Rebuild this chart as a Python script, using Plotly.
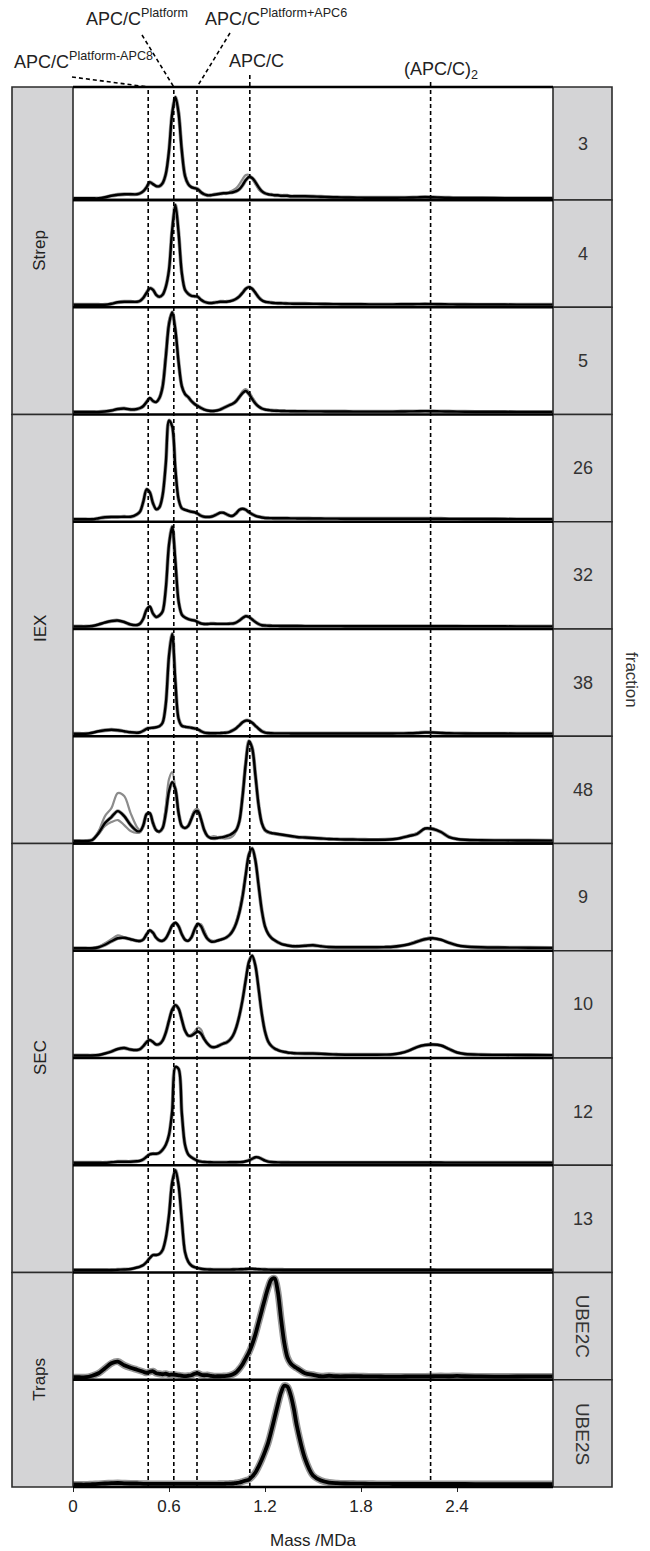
import plotly.graph_objects as go
from plotly.subplots import make_subplots

# Mass axis (MDa) shared by every profile
mass_mda = [
    0.00, 0.04, 0.08, 0.12, 0.16, 0.20, 0.24, 0.28, 0.32, 0.36, 0.40,
    0.42, 0.44, 0.46, 0.48, 0.50, 0.52, 0.54, 0.56, 0.58, 0.60,
    0.62, 0.64, 0.66, 0.68, 0.70, 0.72, 0.74, 0.76, 0.78, 0.80,
    0.82, 0.84, 0.86, 0.88, 0.90, 0.92, 0.94, 0.96, 0.98, 1.00,
    1.02, 1.04, 1.06, 1.08, 1.10, 1.12, 1.14, 1.16, 1.18, 1.20,
    1.22, 1.24, 1.26, 1.28, 1.30, 1.32, 1.34, 1.36, 1.38, 1.40,
    1.45, 1.50, 1.55, 1.60, 1.65, 1.70, 1.75, 1.80, 1.85, 1.90,
    1.95, 2.00, 2.05, 2.10, 2.15, 2.20, 2.25, 2.30, 2.35, 2.40,
    2.45, 2.55, 2.70, 2.85, 3.00,
]

fractions = ["3", "4", "5", "26", "32", "38", "48", "9", "10", "12", "13", "UBE2C", "UBE2S"]
purification_steps = ["Strep", "IEX", "SEC", "Traps"]
panels_per_step = [3, 4, 4, 2]

# Normalised mass-photometry density (% of panel maximum)
strep_3 = [0, 0, 0, 0, 0, 1, 2.5, 3.5, 4, 4, 4,
           5, 7, 11, 16, 14, 12, 12, 15, 24, 47,
           84, 100, 84, 47, 22, 14, 11, 10, 9, 6,
           4, 3, 3, 3.5, 4, 4.5, 5, 5, 5.5, 6,
           7, 9, 13, 18, 21, 20, 16, 11, 7, 5,
           4, 3.5, 3, 3, 2.5, 2.5, 2.5, 2, 2, 2,
           2, 1.8, 1.5, 1.2, 1, 0.8, 0.7, 0.6, 0.5, 0.5,
           0.5, 0.5, 0.6, 0.7, 0.9, 1.2, 1, 0.7, 0.5, 0.4,
           0.3, 0.3, 0.2, 0.2, 0.1]
strep_3_rep = [0, 0, 0, 0, 0, 1, 2.5, 3.5, 3.5, 4, 4,
               5, 7, 10, 15, 14, 12, 12, 14, 25, 47,
               82, 100, 88, 52, 25, 15, 11, 10, 8, 5,
               3.5, 3, 3, 3.5, 4, 4.5, 5, 5.5, 6.5, 8,
               10, 14, 19, 23, 23, 19, 14, 9, 6, 4.5,
               3.5, 3, 3, 2.5, 2.5, 2.5, 2, 2, 2, 2,
               2, 1.8, 1.5, 1.2, 1, 0.8, 0.7, 0.6, 0.5, 0.5,
               0.5, 0.5, 0.6, 0.7, 0.9, 1.2, 1, 0.7, 0.5, 0.4,
               0.3, 0.3, 0.2, 0.2, 0.1]
strep_4 = [0, 0, 0, 0, 0, 0, 1, 2.5, 3, 3, 3,
           4, 7, 12, 16.5, 15, 10, 8, 10, 18, 35,
           75, 100, 72, 32, 15, 11, 9, 8.5, 8, 5,
           3, 2, 1.7, 2, 2.5, 3, 3, 3, 3.5, 4.5,
           6, 8.5, 12, 16, 17.7, 16, 12, 7.5, 4.5, 3,
           2.5, 2, 1.7, 1.5, 1.5, 1.3, 1.2, 1.1, 1, 1,
           1, 0.9, 0.8, 0.7, 0.6, 0.5, 0.5, 0.5, 0.4, 0.4,
           0.4, 0.4, 0.5, 0.5, 0.6, 0.7, 0.6, 0.5, 0.4, 0.3,
           0.3, 0.2, 0.2, 0.1, 0.1]
strep_5 = [0, 0, 0, 0, 0, 0.5, 1.5, 3, 3.5, 2.5, 3,
           4, 6, 10, 14, 11, 10, 14, 25, 55, 88,
           100, 82, 50, 26, 18, 15, 11, 8, 6, 4,
           2.5, 1.5, 1, 1, 1.5, 2.5, 4, 5.5, 7, 8.5,
           11, 15, 19, 21, 18, 13, 8.5, 5.5, 3.5, 2.5,
           2, 1.5, 1.3, 1.2, 1, 1, 0.9, 0.8, 0.8, 0.7,
           0.7, 0.6, 0.6, 0.5, 0.5, 0.5, 0.4, 0.4, 0.4, 0.4,
           0.4, 0.4, 0.5, 0.6, 0.7, 0.9, 0.8, 0.6, 0.5, 0.4,
           0.3, 0.2, 0.2, 0.1, 0.1]
strep_5_rep = [0, 0, 0, 0, 0, 0.5, 1.5, 3, 3.5, 2.5, 3,
               4, 6, 10, 13, 11, 10, 15, 30, 62, 92,
               100, 80, 47, 25, 17, 14, 10, 7.5, 5.5, 4,
               2.5, 1.5, 1, 1, 1.5, 2.5, 4, 5.5, 7, 9,
               12, 16, 21, 23, 20, 15, 10, 6, 4, 2.5,
               2, 1.5, 1.3, 1.2, 1, 1, 0.9, 0.8, 0.8, 0.7,
               0.7, 0.6, 0.6, 0.5, 0.5, 0.5, 0.4, 0.4, 0.4, 0.4,
               0.4, 0.4, 0.5, 0.6, 0.7, 0.9, 0.8, 0.6, 0.5, 0.4,
               0.3, 0.2, 0.2, 0.1, 0.1]
iex_26 = [0, 0, 0, 0, 1, 2, 2.3, 2.3, 2.5, 2.5, 5,
          8, 18, 30, 27, 16, 10, 12, 24, 56, 99,
          93, 50, 20, 11, 9.5, 8.5, 7.5, 7, 5.5, 3.5,
          2.5, 2.3, 2.5, 3.5, 5, 6.5, 6.5, 5, 3.5, 3.5,
          6, 9.5, 10.5, 9.5, 7, 5, 3.5, 2.5, 1.8, 1.3,
          1.2, 1.1, 1, 1, 1, 1, 1, 0.9, 0.9, 0.8,
          0.8, 0.7, 0.7, 0.6, 0.6, 0.5, 0.5, 0.5, 0.5, 0.5,
          0.5, 0.5, 0.5, 0.5, 0.5, 0.5, 0.5, 0.5, 0.4, 0.4,
          0.3, 0.3, 0.2, 0.1, 0.1]
iex_32 = [0, 0, 0, 0.5, 2, 4, 5.5, 6, 4.5, 2, 1.5,
          3, 8, 17, 20, 13, 9.5, 11, 15, 38, 82,
          100, 65, 25, 12, 9, 7.5, 6.5, 6, 4.5, 3,
          2.5, 2.5, 2.8, 2.8, 2.6, 2.6, 2.6, 2.6, 2.8, 3,
          4, 6, 8.5, 10.3, 9.5, 7, 4.5, 2.5, 1.3, 1,
          0.8, 0.7, 0.6, 0.6, 0.5, 0.5, 0.5, 0.5, 0.5, 0.5,
          0.4, 0.4, 0.4, 0.4, 0.4, 0.3, 0.3, 0.3, 0.3, 0.3,
          0.3, 0.3, 0.3, 0.3, 0.3, 0.3, 0.3, 0.3, 0.3, 0.3,
          0.2, 0.2, 0.2, 0.1, 0.1]
iex_38 = [0, 0, 0, 1, 2.5, 3.5, 4, 3.5, 2.5, 1.5, 1,
          1.5, 3, 5, 5.7, 6, 6.5, 7.5, 11, 30, 78,
          100, 52, 15, 8, 7, 6.5, 6, 5.3, 4.5, 2.5,
          1.2, 0.7, 0.5, 0.5, 0.6, 0.7, 0.9, 1.2, 2, 3.5,
          5.5, 8.5, 11.5, 13.2, 13, 11, 8, 5, 2.5, 1.2,
          0.7, 0.5, 0.4, 0.4, 0.4, 0.4, 0.4, 0.3, 0.3, 0.3,
          0.3, 0.3, 0.3, 0.3, 0.3, 0.3, 0.3, 0.3, 0.3, 0.3,
          0.3, 0.3, 0.4, 0.5, 0.8, 1.3, 1.2, 0.8, 0.5, 0.4,
          0.3, 0.2, 0.2, 0.1, 0.1]
iex_48 = [0, 0, 0, 1, 8, 18, 24, 30, 25, 16, 10,
          10, 16, 27, 28, 18, 11, 9.5, 13, 28, 50,
          59, 52, 28, 15, 13, 15, 22, 29, 30, 22,
          11, 5, 3, 2.7, 3, 3.5, 4, 5, 6, 8,
          11, 20, 45, 78, 100, 93, 66, 36, 18, 11,
          9, 8, 7.5, 7, 6.5, 6, 5.5, 5, 4.5, 4,
          3.5, 3, 2.5, 2, 1.8, 1.5, 1.5, 1.3, 1.2, 1.2,
          1.3, 1.8, 3, 5, 7, 12.5, 12, 9, 4, 2,
          1.2, 0.8, 0.6, 0.5, 0.4]
iex_48_rep_a = [0, 0, 0, 1, 10, 25, 33, 48, 45, 28, 14,
                11, 15, 26, 27, 17, 10, 9, 14, 35, 62,
                69, 52, 26, 14, 13, 16, 24, 31, 32, 23,
                11, 5, 4, 5, 4, 3, 2.5, 2.5, 3, 5,
                10, 22, 50, 82, 98, 90, 62, 33, 17, 10,
                8, 7.5, 7, 6.5, 6, 5.5, 5, 4.5, 4, 3.5,
                3, 2.5, 2.2, 2, 1.8, 1.5, 1.4, 1.3, 1.2, 1.2,
                1.3, 2, 3.5, 5.5, 8, 12, 13, 9, 4.5, 2,
                1.2, 0.8, 0.6, 0.5, 0.4]
iex_48_rep_b = [0, 0, 0, 1, 7, 15, 19, 21, 16, 10, 8,
                9, 15, 26, 27, 17, 10, 9, 13, 27, 49,
                58, 50, 29, 15, 13, 15, 22, 28, 30, 22,
                11, 5, 3, 3, 3.5, 4, 4, 4.5, 5.5, 7.5,
                11, 19, 43, 76, 99, 95, 68, 37, 18, 11,
                9, 8, 7.5, 7, 6.5, 6, 5.5, 5, 4.5, 4,
                3.5, 3, 2.5, 2, 1.8, 1.5, 1.5, 1.3, 1.2, 1.2,
                1.3, 1.8, 3, 5, 7, 12.5, 12, 9, 4, 2,
                1.2, 0.8, 0.6, 0.5, 0.4]
sec_9 = [0, 0, 0, 0, 1, 3.5, 7, 10, 10.5, 9, 7.5,
         7.3, 9, 14, 18, 15.5, 10.5, 7.8, 7.5, 10, 16,
         23, 25.5, 22, 14, 8.5, 7.5, 11, 19, 24.5, 22,
         15, 9.5, 7, 6.6, 7.5, 8.5, 9.5, 11, 13.5, 18,
         25, 36, 52, 74, 94, 100, 88, 63, 38, 22,
         14.5, 10.5, 8, 6, 4.5, 3.5, 2.8, 2.3, 2, 2,
         2.5, 3, 2, 1.2, 1, 1, 1, 1, 1, 1,
         1.2, 1.5, 2.5, 4, 6.5, 9, 10, 8.5, 5.5, 3,
         1.8, 1, 0.7, 0.5, 0.4]
sec_9_rep = [0, 0, 0, 0, 1.5, 5, 9, 13, 11, 9, 7.5,
             7.5, 9, 13.5, 17, 15, 10.5, 8, 7.5, 10, 15,
             22, 25, 22, 15, 9, 7.5, 10, 17, 23, 24,
             18, 11, 8, 7, 7.5, 8.5, 9.5, 11, 14, 19,
             27, 39, 56, 77, 95, 100, 86, 60, 36, 21,
             14, 10, 8, 6, 4.5, 3.5, 2.8, 2.3, 2, 2,
             2.5, 3.5, 2, 1.2, 1, 1, 1, 1, 1, 1,
             1.2, 1.6, 2.5, 4.5, 7.5, 10, 10.5, 8.5, 5.5, 3,
             1.8, 1, 0.7, 0.5, 0.4]
sec_10 = [0, 0, 0, 0, 0.5, 2, 4, 6.5, 7.5, 6, 5.5,
          6.5, 9.5, 13.5, 15.5, 13.5, 11, 11.5, 15, 23, 35,
          46, 50.5, 47, 36, 25, 20, 20, 22, 24, 22,
          16.5, 12, 9, 8.3, 9, 10.5, 12, 13, 15.5, 20,
          28, 40, 56, 76, 94, 100, 90, 67, 42, 24,
          14, 9.5, 7, 5.5, 4.3, 3.6, 3, 2.6, 2.3, 2.1,
          2, 2, 1.7, 1.3, 1, 0.8, 0.8, 0.8, 0.8, 0.8,
          0.9, 1.2, 2.5, 5, 8.5, 10.5, 11, 10, 6.5, 3,
          1.5, 0.8, 0.6, 0.5, 0.4]
sec_10_rep = [0, 0, 0, 0, 0.5, 2, 4, 6.5, 7.5, 6, 5.5,
              6.5, 9.5, 13.5, 15.5, 13.5, 11, 11.5, 15, 22, 33,
              44, 49, 46, 36, 25, 20, 21, 24, 28, 26,
              18, 12, 9, 8.5, 9.5, 11, 12.5, 14, 16.5, 21,
              29, 41, 57, 77, 94, 100, 89, 66, 41, 23,
              14, 9.5, 7, 5.5, 4.3, 3.6, 3.2, 2.8, 2.4, 2.1,
              2, 2.2, 1.8, 1.3, 1, 0.8, 0.8, 0.8, 0.8, 0.8,
              0.9, 1.2, 2.3, 4.5, 8, 10.5, 11, 10.5, 7, 3.5,
              1.5, 0.8, 0.6, 0.5, 0.4]
sec_12 = [0, 0, 0, 0, 0, 0, 0.5, 1, 1, 1, 1.5,
          2, 3.5, 6, 8.5, 9, 9, 10, 13, 18, 28,
          52, 96, 94, 50, 18, 8.5, 5.5, 3.5, 2, 1.2,
          0.8, 0.6, 0.5, 0.4, 0.4, 0.4, 0.4, 0.4, 0.5, 0.5,
          0.5, 0.6, 0.8, 1.5, 2.5, 4, 5.5, 5.3, 3.8, 2.2,
          1.2, 0.7, 0.5, 0.4, 0.3, 0.3, 0.3, 0.2, 0.2, 0.2,
          0.2, 0.2, 0.2, 0.2, 0.2, 0.2, 0.2, 0.2, 0.2, 0.2,
          0.2, 0.2, 0.2, 0.2, 0.2, 0.2, 0.2, 0.2, 0.1, 0.1,
          0.1, 0.1, 0.1, 0.1, 0.1]
sec_13 = [0, 0, 0, 0, 0, 0, 0, 0.3, 0.5, 1, 2.5,
          3.5, 5, 8, 12, 15, 15, 16, 20, 32, 55,
          88, 100, 85, 50, 18, 8.4, 4.5, 2.8, 1.8, 1.2,
          0.8, 0.6, 0.5, 0.4, 0.4, 0.4, 0.4, 0.4, 0.4, 0.5,
          0.6, 0.7, 0.8, 1, 1.2, 1.2, 1, 0.8, 0.6, 0.5,
          0.4, 0.3, 0.3, 0.3, 0.3, 0.2, 0.2, 0.2, 0.2, 0.2,
          0.2, 0.2, 0.2, 0.2, 0.2, 0.2, 0.2, 0.2, 0.2, 0.2,
          0.2, 0.2, 0.2, 0.2, 0.2, 0.2, 0.2, 0.1, 0.1, 0.1,
          0.1, 0.1, 0.1, 0.1, 0.1]
traps_ube2c = [0, 0, 0, 1.5, 4, 9, 14, 15.7, 12, 9.5, 7.5,
               6.5, 5.5, 4.5, 5.5, 6, 4, 3.5, 3, 3.5, 2.5,
               2.6, 2.5, 2, 1.5, 1.2, 1.5, 2, 3.5, 4, 2.5,
               2, 2.2, 1.5, 1, 1, 1, 1.2, 1.3, 1.8, 3,
               5, 8.5, 13, 19, 25, 33, 43, 55, 67, 79,
               90, 98, 99, 86, 59, 35, 20, 14, 11, 9,
               4, 2.5, 1, 1.5, 1, 1, 1.2, 1, 0.8, 0.8,
               0.7, 0.7, 0.7, 0.8, 0.8, 0.8, 1, 1.2, 1, 1.3,
               1, 0.8, 0.7, 0.8, 0.8]
traps_ube2s = [0, 0, 0, 0.3, 0.6, 1, 1.3, 1.5, 1.2, 1, 1,
               0.8, 0.7, 0.7, 0.6, 0.6, 0.6, 0.6, 0.6, 0.6, 0.6,
               0.6, 0.6, 0.6, 0.6, 0.6, 0.6, 0.6, 0.6, 0.6, 0.6,
               0.6, 0.6, 0.6, 0.6, 0.6, 0.7, 0.7, 0.8, 0.9, 1,
               1.5, 2, 3, 4, 5, 8, 12, 18, 25, 33,
               42, 54, 67, 80, 92, 99, 98, 90, 76, 58,
               26, 9, 4, 2, 1.3, 1, 0.9, 0.8, 0.7, 0.6,
               0.6, 0.5, 0.5, 0.5, 0.5, 0.5, 0.5, 0.5, 0.5, 0.5,
               0.5, 0.4, 0.4, 0.4, 0.4]

# main profile and extra replicate profiles for each fraction
profiles = {
    "3": (strep_3, [strep_3_rep]),
    "4": (strep_4, []),
    "5": (strep_5, [strep_5_rep]),
    "26": (iex_26, []),
    "32": (iex_32, []),
    "38": (iex_38, []),
    "48": (iex_48, [iex_48_rep_a, iex_48_rep_b]),
    "9": (sec_9, [sec_9_rep]),
    "10": (sec_10, [sec_10_rep]),
    "12": (sec_12, []),
    "13": (sec_13, []),
    "UBE2C": (traps_ube2c, []),
    "UBE2S": (traps_ube2s, []),
}

# expected masses of the assemblies (MDa)
reference_mda = [0.47, 0.63, 0.775, 1.105, 2.235]

x_ticks = [0, 0.6, 1.2, 1.8, 2.4]
x_tick_text = ["0", "0.6", "1.2", "1.8", "2.4"]

for name, (main, reps) in profiles.items():
    for arr in [main] + reps:
        if len(arr) != len(mass_mda):
            raise ValueError(f"{name}: {len(arr)} values")

# ---- figure geometry (pixels) ----
W, H = 650, 1551
ML, MR, MT, MB = 73, 97, 87, 64
PW, PH = W - ML - MR, H - MT - MB
X_MAX = 3.0

n = len(fractions)
row_px = [113] + [(PH - 113) / (n - 1)] * (n - 1)

fig = make_subplots(rows=n, cols=1, shared_xaxes=True, vertical_spacing=0,
                    row_heights=[r / PH for r in row_px])

GRAY = "#8c8c8c"
for i, frac in enumerate(fractions, start=1):
    main, reps = profiles[frac]
    trap = frac.startswith("UBE")
    halo_w = 7 if trap else 3.8
    main_w = 3.8 if trap else 2.4
    for rep in reps:
        fig.add_trace(go.Scatter(x=mass_mda, y=rep, mode="lines", line_shape="spline",
                                 line=dict(color=GRAY, width=2.2, smoothing=0.9),
                                 hoverinfo="skip"), row=i, col=1)
    fig.add_trace(go.Scatter(x=mass_mda, y=main, mode="lines", line_shape="spline",
                             line=dict(color=GRAY, width=halo_w, smoothing=0.9),
                             opacity=0.9, hoverinfo="skip"), row=i, col=1)
    fig.add_trace(go.Scatter(x=mass_mda, y=main, mode="lines", line_shape="spline",
                             line=dict(color="black", width=main_w, smoothing=0.9),
                             hoverinfo="skip"), row=i, col=1)
    yname = "yaxis" if i == 1 else f"yaxis{i}"
    xname = "xaxis" if i == 1 else f"xaxis{i}"
    fig.layout[yname].update(range=[-1.7, 110] if i == 1 else [-2.5, 105],
                             visible=False, fixedrange=True)
    fig.layout[xname].update(range=[0, X_MAX], showgrid=False, zeroline=False,
                             showline=False, showticklabels=False, ticks="")

fig.layout[f"xaxis{n}"].update(
    tickvals=x_ticks, ticktext=x_tick_text, showticklabels=True,
    ticks="outside", ticklen=4, tickwidth=1, tickcolor="#222",
    tickfont=dict(family="Liberation Sans, Arial", size=17, color="#222"))

domains = []
for i in range(1, n + 1):
    yname = "yaxis" if i == 1 else f"yaxis{i}"
    domains.append(tuple(fig.layout[yname].domain))


def px_y(y):
    return (H - MB - y) / PH


def px_x(x):
    return (x - ML) / PW


shapes = []
STRIP = "#d4d4d6"
EDGE = "#2b2b2b"
left_x0 = px_x(12)
right_x1 = px_x(612)
TXT = dict(family="Liberation Sans, Arial", color="#222")

# left strips (purification step)
start = 0
for step, count in zip(purification_steps, panels_per_step):
    y1 = domains[start][1]
    y0 = domains[start + count - 1][0]
    shapes.append(dict(type="rect", xref="paper", yref="paper", x0=left_x0, x1=0,
                       y0=y0, y1=y1, fillcolor=STRIP, line=dict(color=EDGE, width=1.6),
                       layer="above"))
    fig.add_annotation(xref="paper", yref="paper", x=px_x(40), y=(y0 + y1) / 2,
                       xanchor="center", yanchor="middle",
                       text=step, textangle=-90, showarrow=False,
                       font=dict(size=17, **TXT))
    start += count

# right strips (fraction)
for i, frac in enumerate(fractions):
    y0, y1 = domains[i]
    shapes.append(dict(type="rect", xref="paper", yref="paper", x0=1, x1=right_x1,
                       y0=y0, y1=y1, fillcolor=STRIP, line=dict(color=EDGE, width=1.6),
                       layer="above"))
    ube = frac.startswith("UBE")
    fig.add_annotation(xref="paper", yref="paper", x=px_x(582.5), y=(y0 + y1) / 2,
                       xanchor="center", yanchor="middle",
                       text=frac, textangle=90 if ube else 0, showarrow=False,
                       font=dict(family="Liberation Sans, Arial", size=19 if ube else 18,
                                 color="#333"))

# panel separators
edges = sorted({d for pair in domains for d in pair})
for yv in edges:
    shapes.append(dict(type="line", xref="paper", yref="paper", x0=0, x1=1,
                       y0=yv, y1=yv, line=dict(color="black", width=2.4), layer="above"))

# reference masses
for m in reference_mda:
    shapes.append(dict(type="line", xref="x", yref="paper", x0=m, x1=m, y0=0, y1=1,
                       line=dict(color="black", width=1.6, dash="4px,3px"), layer="above"))

# leader lines from labels to the reference lines
leaders = [((72, 77), (reference_mda[0], 87)),
           ((142, 35), (reference_mda[1], 87)),
           ((230, 33), (reference_mda[2], 87)),
           ((ML + reference_mda[3] * PW / X_MAX, 75), (reference_mda[3], 87)),
           ((ML + reference_mda[4] * PW / X_MAX, 82), (reference_mda[4], 87))]
for (sx, sy), (m, ey) in leaders:
    shapes.append(dict(type="line", xref="paper", yref="paper",
                       x0=px_x(sx), y0=px_y(sy), x1=m / X_MAX, y1=px_y(ey),
                       line=dict(color="black", width=1.6, dash="4px,3px")))

fig.update_layout(shapes=shapes)

LABEL_FONT = dict(family="Liberation Sans, Arial", size=18, color="#222")
# text, left edge (px), bottom of the text box (px)
top_labels = [
    ("APC/C<sup>Platform-APC8</sup>", 12, 74),
    ("APC/C<sup>Platform</sup>", 84, 31),
    ("APC/C<sup>Platform+APC6</sup>", 203, 31),
    ("APC/C", 227, 73),
    ("(APC/C)<sub>2</sub>", 402, 84),
]
for text, x, bottom in top_labels:
    fig.add_annotation(xref="paper", yref="paper", x=px_x(x), y=px_y(bottom),
                       xanchor="left", yanchor="bottom", text=text, showarrow=False,
                       font=LABEL_FONT)

fig.add_annotation(xref="paper", yref="paper", x=px_x(632), y=px_y(680),
                   xanchor="center", yanchor="middle",
                   text="fraction", textangle=90, showarrow=False,
                   font=dict(family="Liberation Sans, Arial", size=17, color="#333"))
fig.add_annotation(xref="paper", yref="paper", x=0.5, y=px_y(1540),
                   xanchor="center", yanchor="middle",
                   text="Mass /MDa", showarrow=False,
                   font=dict(size=17, **TXT))

fig.update_layout(width=W, height=H, margin=dict(l=ML, r=MR, t=MT, b=MB),
                  showlegend=False, plot_bgcolor="white", paper_bgcolor="white")

fig.write_html("out.html")
